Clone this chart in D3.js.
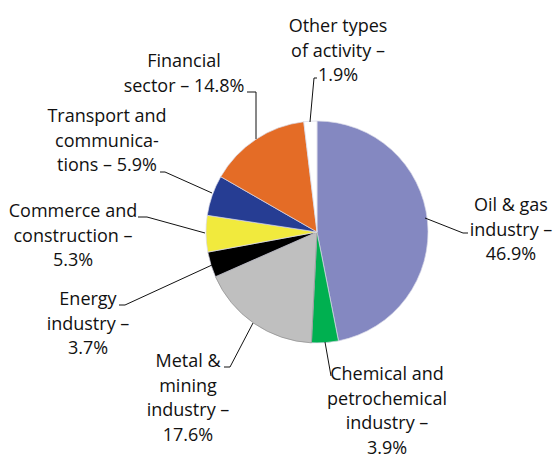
<!DOCTYPE html>
<html>
<head>
<meta charset="utf-8">
<script src="https://cdn.jsdelivr.net/npm/d3@7"></script>
<style>
  body { margin: 0; background: #fff; }
  svg text { font-family: "Open Sans", sans-serif; font-size: 18px; fill: #111; }
  .leader { fill: none; stroke: #111; stroke-width: 1; }
</style>
</head>
<body>
<div id="chart"></div>
<script>
// data, in drawing order (clockwise from 12 o'clock)
const sectors = ['Oil & gas industry', 'Chemical and petrochemical industry', 'Metal & mining industry',
  'Energy industry', 'Commerce and construction', 'Transport and communications',
  'Financial sector', 'Other types of activity'];
const shares = [46.9, 3.9, 17.6, 3.7, 5.3, 5.9, 14.8, 1.9];
const labelLines = [
  ['Oil & gas', 'industry –', '46.9%'],
  ['Chemical and', 'petrochemical', 'industry –', '3.9%'],
  ['Metal &', 'mining', 'industry –', '17.6%'],
  ['Energy', 'industry –', '3.7%'],
  ['Commerce and', 'construction –', '5.3%'],
  ['Transport and', 'communica-', 'tions – 5.9%'],
  ['Financial', 'sector – 14.8%'],
  ['Other types', 'of activity –', '1.9%']
];

const colors = ['#8488c1', '#00b050', '#bfbfbf', '#000000', '#f1ea3d', '#263d93', '#e46c26', '#ffffff'];

// label block centre x / first baseline, and leader path (label end -> bend -> pie)
const labelPos = [
  {x: 511, y: 211, leader: [[468, 233], [463, 233], [425, 218]]},
  {x: 387, y: 380, leader: [[331, 376], [325, 342]]},
  {x: 188, y: 367, leader: [[224, 367], [230, 367], [253, 323]]},
  {x: 88,  y: 305, leader: [[119, 305], [125, 305], [212, 265]]},
  {x: 73,  y: 217, leader: [[138, 217], [147, 217], [205, 233]]},
  {x: 107, y: 122, leader: [[160, 172], [165, 172], [212, 193]]},
  {x: 184, y: 67,  leader: [[247, 92], [256, 92], [256, 139]]},
  {x: 338, y: 32,  leader: [[317, 78], [314, 78], [310, 122]]}
];

const width = 553, height = 457;
const cx = 317, cy = 232, radius = 111;
const lineGap = 24.5;

const svg = d3.select('#chart').append('svg')
  .attr('width', width)
  .attr('height', height);

const pie = d3.pie().sort(null).value(d => d);
const arc = d3.arc().innerRadius(0).outerRadius(radius);

const slices = svg.append('g')
  .attr('transform', `translate(${cx},${cy})`);

slices.selectAll('path')
  .data(pie(shares))
  .join('path')
  .attr('d', arc)
  .attr('fill', (d, i) => colors[i])
  .attr('stroke', (d, i) => i === 2 ? '#8c8c8c' : '#d9d9e6')
  .attr('stroke-width', 0.7);

// leader lines
svg.append('g').selectAll('path')
  .data(labelPos)
  .join('path')
  .attr('class', 'leader')
  .attr('d', d => d3.line()(d.leader));

// labels
const labels = svg.append('g').selectAll('text')
  .data(labelLines)
  .join('text')
  .attr('text-anchor', 'middle')
  .attr('x', (d, i) => labelPos[i].x)
  .attr('y', (d, i) => labelPos[i].y);

labels.selectAll('tspan')
  .data(d => d)
  .join('tspan')
  .attr('x', function() { return this.parentNode.getAttribute('x'); })
  .attr('dy', (d, j) => j === 0 ? 0 : lineGap)
  .text(d => d);
</script>
</body>
</html>
